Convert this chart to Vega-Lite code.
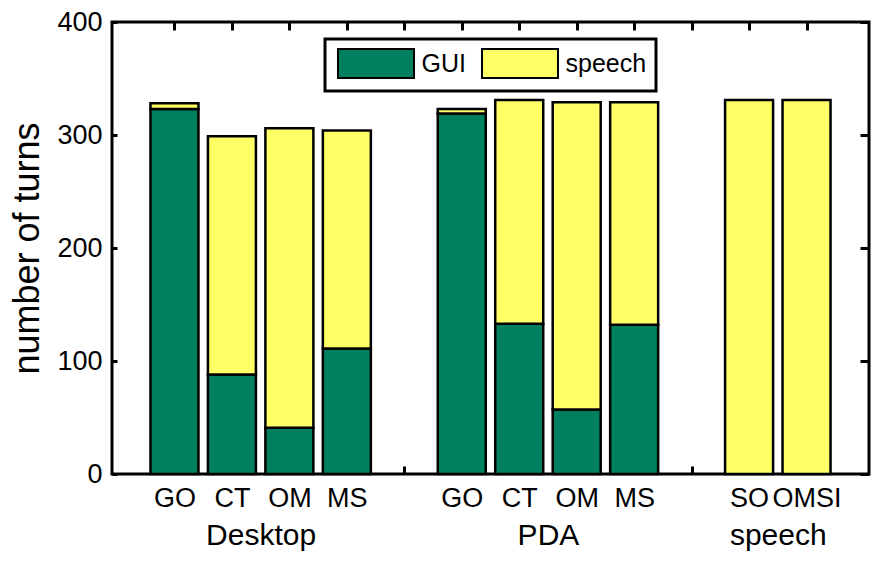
{
  "$schema": "https://vega.github.io/schema/vega-lite/v6.json",
  "width": 757,
  "height": 452,
  "autosize": {"type": "none"},
  "padding": {"left": 112, "top": 22, "right": 7, "bottom": 87},
  "config": {
    "font": "Liberation Sans",
    "view": {"stroke": "black", "strokeWidth": 3},
    "axis": {"grid": false, "domain": false, "labelColor": "black", "titleColor": "black", "tickColor": "black", "tickWidth": 3}
  },
  "data": {
    "values": [
      {"group": "Desktop", "method": "GO", "slot": 1, "input": "GUI", "turns": 323},
      {"group": "Desktop", "method": "GO", "slot": 1, "input": "speech", "turns": 5},
      {"group": "Desktop", "method": "CT", "slot": 2, "input": "GUI", "turns": 88},
      {"group": "Desktop", "method": "CT", "slot": 2, "input": "speech", "turns": 211},
      {"group": "Desktop", "method": "OM", "slot": 3, "input": "GUI", "turns": 41},
      {"group": "Desktop", "method": "OM", "slot": 3, "input": "speech", "turns": 265},
      {"group": "Desktop", "method": "MS", "slot": 4, "input": "GUI", "turns": 111},
      {"group": "Desktop", "method": "MS", "slot": 4, "input": "speech", "turns": 193},
      {"group": "PDA", "method": "GO", "slot": 6, "input": "GUI", "turns": 319},
      {"group": "PDA", "method": "GO", "slot": 6, "input": "speech", "turns": 4},
      {"group": "PDA", "method": "CT", "slot": 7, "input": "GUI", "turns": 133},
      {"group": "PDA", "method": "CT", "slot": 7, "input": "speech", "turns": 198},
      {"group": "PDA", "method": "OM", "slot": 8, "input": "GUI", "turns": 57},
      {"group": "PDA", "method": "OM", "slot": 8, "input": "speech", "turns": 272},
      {"group": "PDA", "method": "MS", "slot": 9, "input": "GUI", "turns": 132},
      {"group": "PDA", "method": "MS", "slot": 9, "input": "speech", "turns": 197},
      {"group": "speech", "method": "SO", "slot": 11, "input": "speech", "turns": 331},
      {"group": "speech", "method": "OMSI", "slot": 12, "input": "speech", "turns": 331}
    ]
  },
  "layer": [
    {
      "mark": {"type": "bar", "size": 48, "stroke": "black", "strokeWidth": 2.5},
      "encoding": {
        "x": {
          "field": "slot", "type": "quantitative",
          "scale": {"domain": [0, 13], "nice": false, "zero": false},
          "axis": {
            "orient": "bottom", "title": null,
            "values": [1, 2, 2.5, 3, 4, 5, 6, 7, 7.5, 8, 9, 10, 11, 11.5, 12],
            "tickSize": -8,
            "tickOpacity": {"condition": {"test": "datum.value == 5 || datum.value == 10", "value": 1}, "value": 0},
            "labelPadding": 19,
            "labelOverlap": false, "labelBound": false, "labelFlush": false,
            "labelFontSize": {"condition": {"test": "datum.value == 2.5 || datum.value == 7.5 || datum.value == 11.5", "value": 30}, "value": 27},
            "labelLineHeight": 35,
            "labelExpr": "datum.value == 1 || datum.value == 6 ? 'GO' : datum.value == 2 || datum.value == 7 ? 'CT' : datum.value == 3 || datum.value == 8 ? 'OM' : datum.value == 4 || datum.value == 9 ? 'MS' : datum.value == 11 ? 'SO' : datum.value == 12 ? 'OMSI' : datum.value == 2.5 ? ['', 'Desktop'] : datum.value == 7.5 ? ['', 'PDA'] : datum.value == 11.5 ? ['', 'speech'] : ''"
          }
        },
        "y": {
          "field": "turns", "type": "quantitative", "aggregate": "sum", "stack": "zero",
          "scale": {"domain": [0, 400], "nice": false},
          "axis": {
            "orient": "left", "title": "number of turns",
            "values": [0, 100, 200, 300, 400],
            "tickSize": -5, "labelPadding": 15, "labelFontSize": 27,
            "titleFontSize": 36, "titleFontWeight": "normal", "titlePadding": 10
          }
        },
        "color": {
          "field": "input", "type": "nominal",
          "scale": {"domain": ["GUI", "speech"], "range": ["#00805F", "#FFFF66"]},
          "legend": {
            "title": null, "orient": "none", "legendX": 213, "legendY": 17,
            "direction": "horizontal",
            "symbolType": "M-2.62,-1H2.62V1H-2.62Z", "symbolSize": 841,
            "symbolOffset": 26.5,
            "symbolStrokeColor": "black", "symbolStrokeWidth": 2, "symbolOpacity": 1,
            "labelFontSize": 25, "labelColor": "black", "labelOffset": 30,
            "columnPadding": 12, "padding": 9,
            "strokeColor": "black", "fillColor": "white",
            "encode": {"legend": {"update": {"strokeWidth": {"value": 3}}}}
          }
        },
        "order": {"field": "input", "sort": "ascending"}
      }
    },
    {
      "mark": {"type": "point", "opacity": 0},
      "encoding": {
        "x": {
          "field": "slot", "type": "quantitative",
          "axis": {"orient": "top", "title": null, "values": [1, 2, 3, 4, 5, 6, 7, 8, 9, 10, 11, 12], "tickSize": -8, "labels": false}
        },
        "y": {
          "field": "turns", "type": "quantitative",
          "axis": {"orient": "right", "title": null, "values": [0, 100, 200, 300, 400], "tickSize": -9, "labels": false}
        }
      }
    }
  ],
  "resolve": {"axis": {"x": "independent", "y": "independent"}}
}
